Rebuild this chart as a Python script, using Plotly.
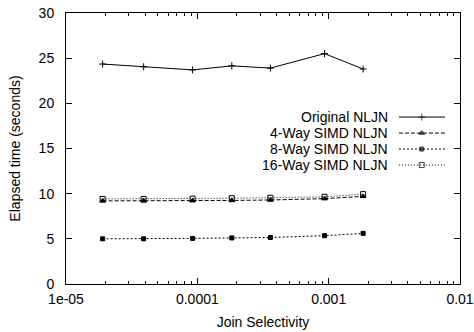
import plotly.graph_objects as go

# ---- data ----
selectivity = [1.9e-5, 3.9e-5, 9.2e-5, 1.83e-4, 3.6e-4, 9.3e-4, 1.83e-3]
original_nljn = [24.35, 24.05, 23.7, 24.15, 23.9, 25.5, 23.8]
simd4_nljn = [9.2, 9.2, 9.22, 9.25, 9.3, 9.45, 9.7]
simd8_nljn = [5.0, 5.0, 5.05, 5.1, 5.15, 5.35, 5.6]
simd16_nljn = [9.42, 9.42, 9.45, 9.5, 9.55, 9.65, 9.95]
series_names = ["Original NLJN", "4-Way SIMD NLJN", "8-Way SIMD NLJN", "16-Way SIMD NLJN"]
x_tick_vals = [1e-5, 1e-4, 1e-3, 1e-2]
x_tick_text = ["1e-05", "0.0001", "0.001", "0.01"]
y_tick_vals = [0, 5, 10, 15, 20, 25, 30]

FONT = "Liberation Sans, Arial, sans-serif"
styles = [
    dict(dash="solid", symbol="cross-thin", size=5),
    dict(dash="4px,2px", symbol="triangle-up", size=5),
    dict(dash="2px,2px", symbol="square", size=4),
    dict(dash="1px,2px", symbol="square-open", size=5),
]
values = [original_nljn, simd4_nljn, simd8_nljn, simd16_nljn]

fig = go.Figure()
for name, ys, st in zip(series_names, values, styles):
    fig.add_trace(go.Scatter(
        x=selectivity, y=ys, mode="lines+markers", name=name, showlegend=False,
        line=dict(color="black", width=1, dash=st["dash"]),
        marker=dict(symbol=st["symbol"], size=st["size"], color="black",
                    line=dict(color="black", width=1)),
    ))

# manual gnuplot-style legend (text right-aligned, sample on right)
leg_y = [0.616, 0.557, 0.498, 0.439]
for name, st, ly in zip(series_names, styles, leg_y):
    fig.add_trace(go.Scatter(
        x=[0.845, 0.903, 0.962], y=[ly, ly, ly], xaxis="x2", yaxis="y2",
        mode="lines+markers", showlegend=False, hoverinfo="skip",
        line=dict(color="black", width=1, dash=st["dash"]),
        marker=dict(symbol=st["symbol"], size=[0, st["size"], 0], color="black",
                    line=dict(color="black", width=1)),
    ))
    fig.add_annotation(x=0.822, y=ly, xref="paper", yref="paper", text=name,
                       showarrow=False, xanchor="right", yanchor="middle",
                       font=dict(family=FONT, size=14, color="black"))

fig.update_layout(
    width=474, height=332,
    margin=dict(l=66, r=14, t=13, b=48, autoexpand=False),
    paper_bgcolor="white", plot_bgcolor="white",
    font=dict(family=FONT, size=14, color="black"),
    xaxis=dict(
        type="log", range=[-5, -2], tickvals=x_tick_vals, ticktext=x_tick_text,
        ticks="inside", ticklen=6, tickcolor="black", showgrid=False, zeroline=False,
        showline=True, linecolor="black", linewidth=1, mirror="ticks", automargin=False,
        ticklabelstandoff=2, ticklabeloverflow="allow",
        minor=dict(ticks="inside", ticklen=3, tickcolor="black", dtick="D1", showgrid=False),
        title=dict(text="Join Selectivity", font=dict(size=14), standoff=11),
    ),
    yaxis=dict(
        range=[0, 30], tickvals=y_tick_vals, automargin=False,
        ticks="inside", ticklen=6, tickcolor="black", showgrid=False, zeroline=False,
        showline=True, linecolor="black", linewidth=1, mirror="ticks",
        ticklabelstandoff=8, ticklabeloverflow="allow",
        title=dict(text="Elapsed time (seconds)", font=dict(size=14), standoff=14),
    ),
    xaxis2=dict(range=[0, 1], overlaying="x", visible=False, fixedrange=True),
    yaxis2=dict(range=[0, 1], overlaying="y", visible=False, fixedrange=True),
)

# remove the default 8px page margin so the figure fills the window exactly
fig.write_html("out.html", config={"displayModeBar": False},
               post_script="document.body.style.margin='0px';")
